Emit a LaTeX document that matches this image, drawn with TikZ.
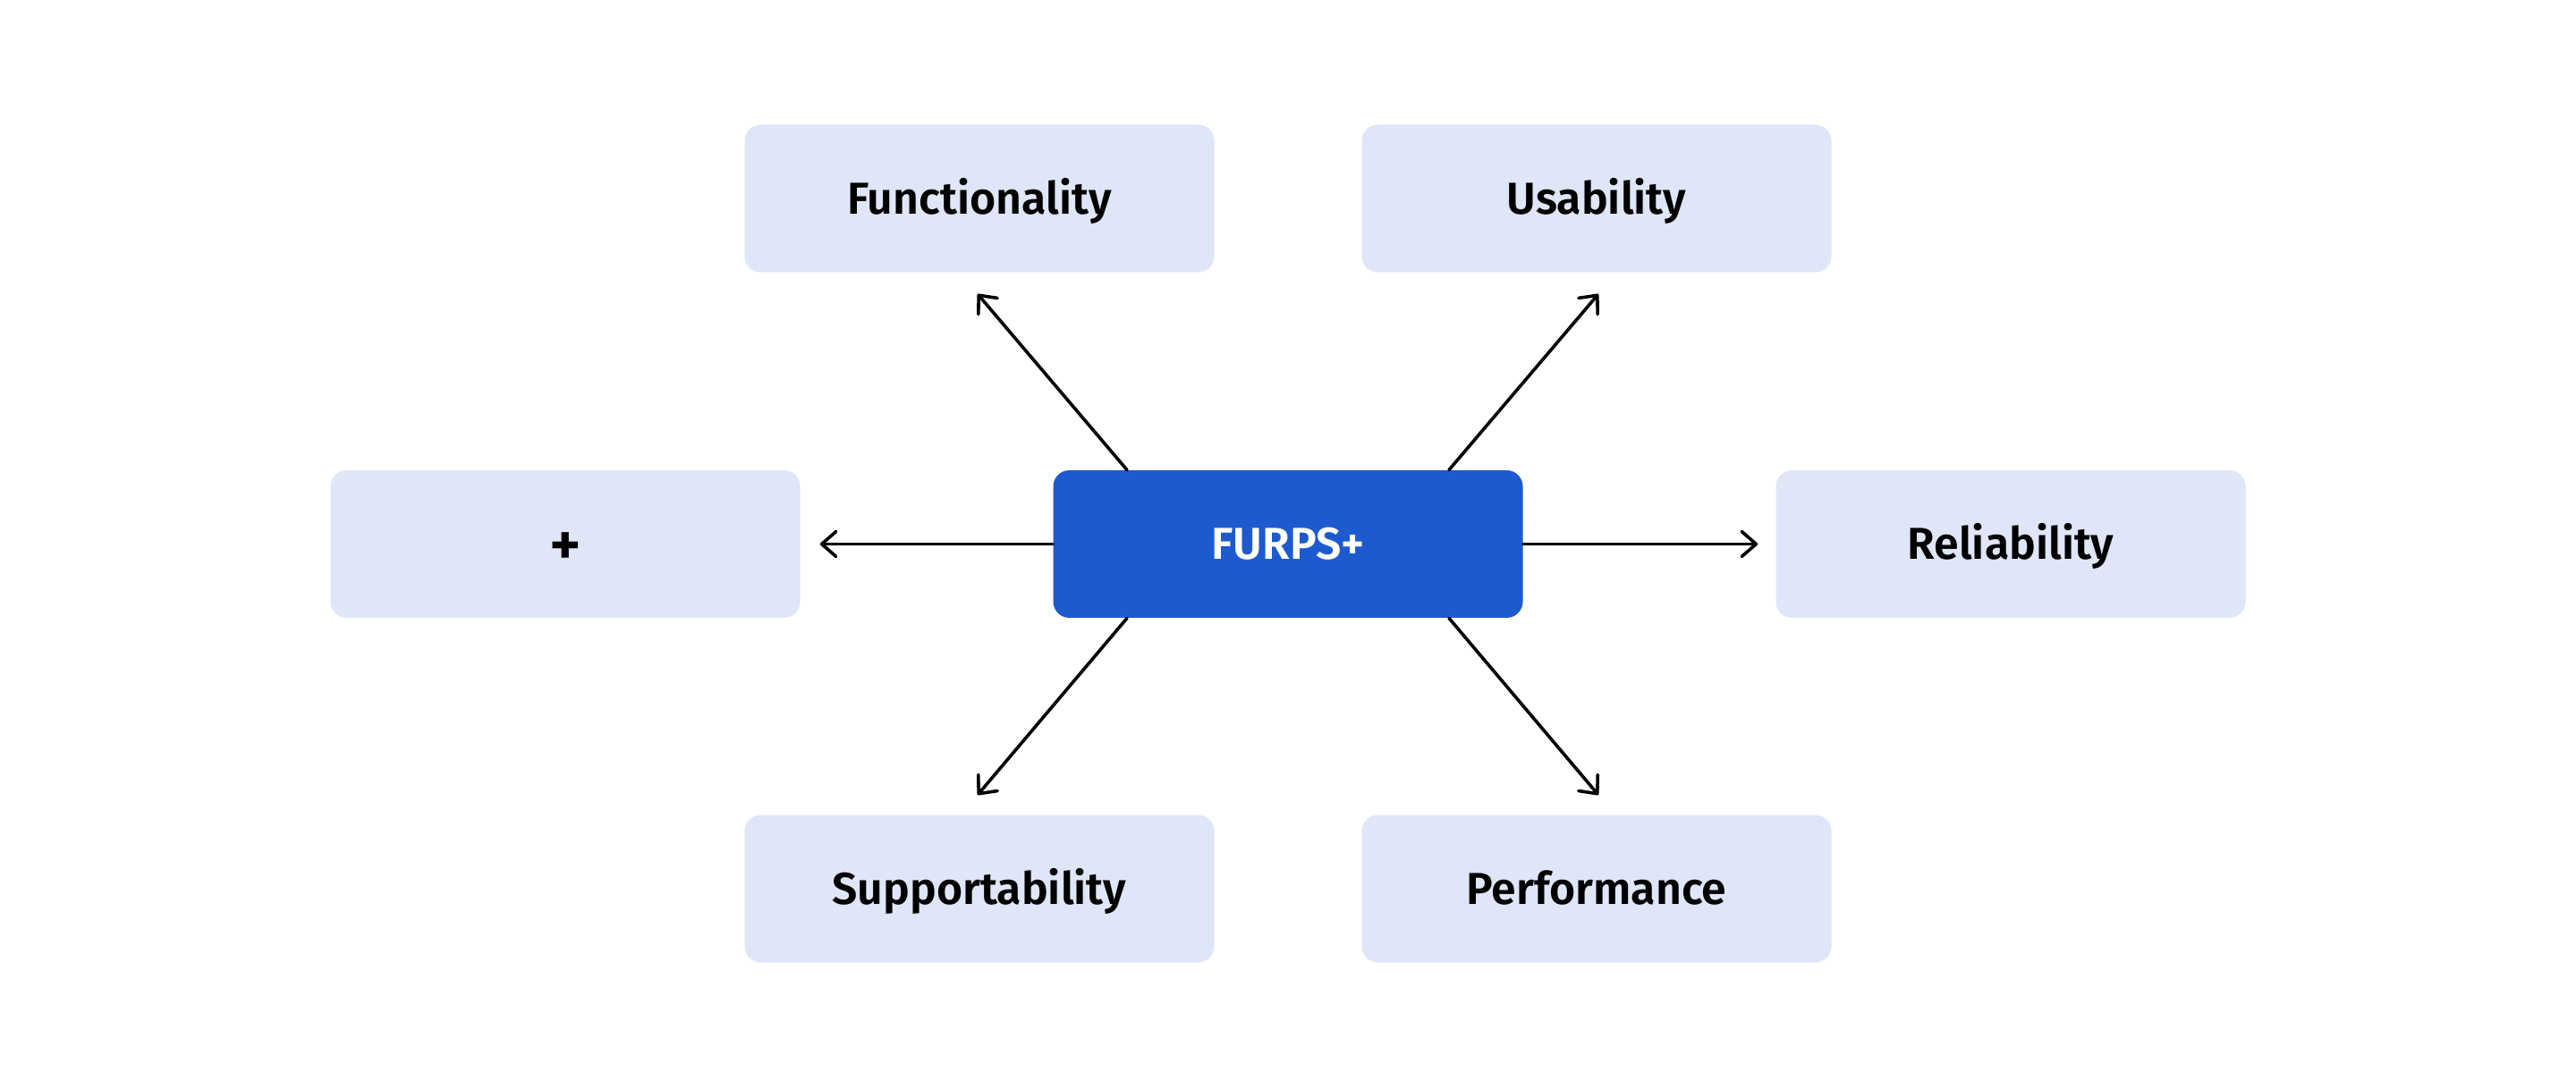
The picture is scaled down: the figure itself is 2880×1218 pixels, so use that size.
\documentclass[tikz,border=0pt]{standalone}
\usepackage{fontspec}
\setmainfont{Fira Sans}[BoldFont={Fira Sans SemiBold}]
\usetikzlibrary{arrows.meta,calc}
\definecolor{boxlight}{HTML}{DEE6F7}
\definecolor{boxblue}{HTML}{1E5ACF}
\begin{document}
\begin{tikzpicture}[x=0.5pt,y=-0.5pt,
  catbox/.style={fill=boxlight,draw=none,rounded corners=9pt,minimum width=262.5pt,minimum height=82.5pt,inner sep=0pt,text height=17.5pt,text depth=0pt,font=\fontsize{25}{30}\selectfont\bfseries,text=black},
  hubbox/.style={catbox,fill=boxblue,text=white,text height=17pt,font=\fontsize{25}{30}\selectfont\bfseries},
  plusbox/.style={catbox,text height=24pt,font=\fontsize{34}{38}\selectfont\bfseries},
  link/.style={line width=1.8pt,draw=black,line cap=round,-{Straight Barb[length=8pt,width=14pt,line width=1.8pt,round]}}]
\useasboundingbox (0,0) rectangle (2880,1218);
\fill[white] (0,0) rectangle (2880,1218);
\node[hubbox] (furps) at (1440,608.5) {FURPS+};
\node[catbox] (func) at (1095,222) {Functionality};
\node[catbox] (usab) at (1785,222) {Usability};
\node[plusbox] (plus) at (632,608.5) {+};
\node[catbox] (rel) at (2248,608.5) {Reliability};
\node[catbox] (supp) at (1095,994) {Supportability};
\node[catbox] (perf) at (1785,994) {Performance};
\coordinate (s1) at ($(furps.north)+(-180,0)$);
\coordinate (s2) at ($(furps.north)+(180,0)$);
\coordinate (s3) at ($(furps.south)+(-180,0)$);
\coordinate (s4) at ($(furps.south)+(180,0)$);
\coordinate (e1) at ($(func.south)+(-2,24)$);
\coordinate (e2) at ($(usab.south)+(2,24)$);
\coordinate (e3) at ($(supp.north)+(-2,-22)$);
\coordinate (e4) at ($(perf.north)+(2,-22)$);
\coordinate (e5) at ($(plus.east)+(22,0)$);
\coordinate (e6) at ($(rel.west)+(-20,0)$);
\draw[link] (s1) -- (e1);
\draw[link] (s2) -- (e2);
\draw[link] (s3) -- (e3);
\draw[link] (s4) -- (e4);
\draw[link] (furps.west) -- (e5);
\draw[link] (furps.east) -- (e6);
\end{tikzpicture}
\end{document}
